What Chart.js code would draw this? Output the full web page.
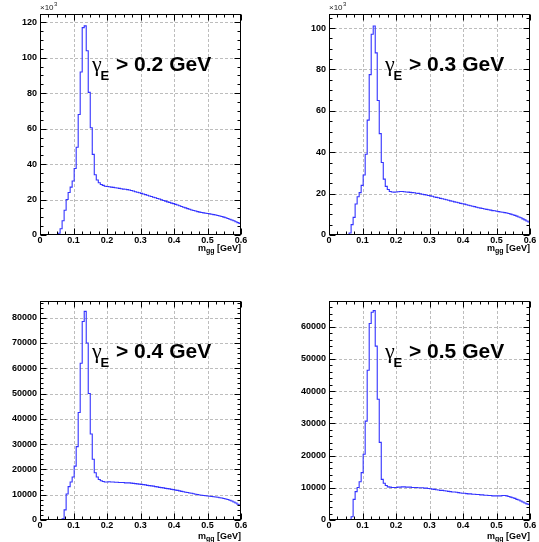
<!DOCTYPE html>
<html><head><meta charset="utf-8">
<script src="https://cdn.jsdelivr.net/npm/chart.js@4.4.1/dist/chart.umd.min.js"></script>
<style>
html,body{margin:0;padding:0;background:#fff;}
body{width:539px;height:542px;position:relative;overflow:hidden;}
canvas{position:absolute;}
</style></head><body>
<canvas id="c0"></canvas><canvas id="c1"></canvas><canvas id="c2"></canvas><canvas id="c3"></canvas>
<script>
// ---- binning (m_gg in GeV) ----
const BIN_LO = 0;
const BIN_WIDTH = 0.006;

// ---- histogram contents (entries per bin) ----
const countsE02 = [
  0,0,0,0,0,0,0,0,0,1000,
  3500,8000,14000,20000,24000,27000,30500,37500,49500,68000,
  92000,117000,118000,104000,80500,60500,45500,34000,31000,29500,
  28500,28000,27500,27400,27200,27000,26900,26700,26500,26300,
  26100,25900,25800,25600,25400,25100,24800,24400,24100,23800,
  23500,23100,22800,22400,22000,21700,21300,21000,20600,20300,
  19900,19500,19100,18700,18400,18000,17700,17300,16900,16500,
  16100,15700,15300,14900,14500,14100,13800,13500,13200,12900,
  12700,12500,12300,12100,11900,11700,11500,11300,11000,10700,
  10400,10100,9700,9300,8900,8500,8000,7500,7000,6500
];
const countsE03 = [
  0,0,0,0,0,0,0,0,0,0,
  1000,5000,8500,15000,18500,20500,24000,29000,39000,55500,
  77500,97000,101000,88000,65000,49000,35000,27000,23500,22000,
  21000,20800,20700,20800,20900,21000,21000,20900,20800,20700,
  20600,20500,20400,20200,20100,19900,19700,19500,19300,19100,
  18900,18700,18400,18200,18000,17700,17500,17300,17000,16800,
  16500,16300,16000,15800,15600,15300,15100,14900,14600,14400,
  14100,13900,13700,13400,13200,13000,12800,12600,12400,12200,
  12000,11800,11700,11500,11300,11100,11000,10800,10600,10400,
  10100,9800,9500,9100,8700,8300,7800,7300,6800,6300
];
const countsE04 = [
  0,0,0,0,0,0,0,0,0,0,
  0,500,4000,10300,13200,15000,17000,21300,29000,42500,
  62000,78500,82500,70000,50000,34000,24000,18700,17000,16000,
  15500,15200,15000,15000,15100,15000,15000,14900,14900,14800,
  14800,14800,14700,14700,14700,14600,14500,14400,14300,14200,
  14100,14000,13900,13700,13600,13500,13400,13200,13100,12900,
  12800,12700,12500,12400,12300,12100,12000,11800,11700,11500,
  11300,11200,11000,10900,10700,10600,10400,10200,10100,9900,
  9800,9700,9600,9500,9400,9300,9200,9100,9000,8800,
  8700,8500,8300,8100,7800,7500,7100,6700,6200,5800
];
const countsE05 = [
  0,0,0,0,0,0,0,0,0,0,
  0,1000,6400,8800,10100,11900,14700,20400,30700,46500,
  61000,64500,65000,54000,37500,24100,12600,11400,10700,10300,
  10200,10100,10100,10100,10200,10200,10300,10300,10200,10200,
  10200,10100,10100,10100,10000,10000,10000,9900,9900,9800,
  9700,9600,9500,9400,9300,9200,9200,9100,9000,8900,
  8800,8700,8700,8600,8500,8400,8300,8300,8200,8100,
  8100,8000,8000,7900,7900,7800,7800,7700,7700,7600,
  7600,7500,7500,7500,7500,7500,7600,7600,7500,7300,
  7100,6900,6700,6400,6200,5900,5600,5300,5000,4800
];

// ---- labels & ticks ----
const cutLabels = ['0.2', '0.3', '0.4', '0.5'];
const xTickValues = [0, 0.1, 0.2, 0.3, 0.4, 0.5, 0.6];
const xTickLabels = ['0', '0.1', '0.2', '0.3', '0.4', '0.5', '0.6'];
const yTickValuesE02 = [0, 20000, 40000, 60000, 80000, 100000, 120000];
const yTickLabelsE02 = ['0', '20', '40', '60', '80', '100', '120'];
const yTickValuesE03 = [0, 20000, 40000, 60000, 80000, 100000];
const yTickLabelsE03 = ['0', '20', '40', '60', '80', '100'];
const yTickValuesE04 = [0, 10000, 20000, 30000, 40000, 50000, 60000, 70000, 80000];
const yTickLabelsE04 = ['0', '10000', '20000', '30000', '40000', '50000', '60000', '70000', '80000'];
const yTickValuesE05 = [0, 10000, 20000, 30000, 40000, 50000, 60000];
const yTickLabelsE05 = ['0', '10000', '20000', '30000', '40000', '50000', '60000'];
const yAxisMax = [124700, 106800, 86600, 68000];
const X_MIN = 0, X_MAX = 0.6;

// ---- layout (page pixels) ----
const panels = [
  { id: 'c0', counts: countsE02, cut: cutLabels[0], yMax: yAxisMax[0], yTicks: yTickValuesE02, yLabels: yTickLabelsE02, ySub: 4, exp: true,
    cv: { left: 0, top: 0, w: 270, h: 262 }, fr: { l: 40, t: 14, r: 241, b: 235 }, titleY: 251 },
  { id: 'c1', counts: countsE03, cut: cutLabels[1], yMax: yAxisMax[1], yTicks: yTickValuesE03, yLabels: yTickLabelsE03, ySub: 4, exp: true,
    cv: { left: 289, top: 0, w: 250, h: 262 }, fr: { l: 329, t: 14, r: 530, b: 235 }, titleY: 251 },
  { id: 'c2', counts: countsE04, cut: cutLabels[2], yMax: yAxisMax[2], yTicks: yTickValuesE04, yLabels: yTickLabelsE04, ySub: 5, exp: false,
    cv: { left: 0, top: 288, w: 270, h: 254 }, fr: { l: 40, t: 301, r: 241, b: 520 }, titleY: 539 },
  { id: 'c3', counts: countsE05, cut: cutLabels[3], yMax: yAxisMax[3], yTicks: yTickValuesE05, yLabels: yTickLabelsE05, ySub: 5, exp: false,
    cv: { left: 289, top: 288, w: 250, h: 254 }, fr: { l: 329, t: 301, r: 530, b: 520 }, titleY: 539 }
];
const textOffsets = [{ dx: 52 }, { dx: 56 }, { dx: 52 }, { dx: 56 }];

const FONT = '"Liberation Sans", Arial, sans-serif';

const rootFrame = {
  id: 'rootFrame',
  beforeDatasetsDraw(chart, args, o) {
    const { ctx, chartArea: a, scales: { x, y } } = chart;
    ctx.save();
    ctx.strokeStyle = '#bdbdbd';
    ctx.lineWidth = 1;
    ctx.setLineDash([3, 2]);
    xTickValues.forEach(v => {
      if (v <= X_MIN || v >= X_MAX) return;
      const px = Math.round(x.getPixelForValue(v)) + 0.5;
      ctx.beginPath(); ctx.moveTo(px, a.top); ctx.lineTo(px, a.bottom); ctx.stroke();
    });
    o.p.yTicks.forEach(v => {
      if (v <= 0) return;
      const py = Math.round(y.getPixelForValue(v)) + 0.5;
      ctx.beginPath(); ctx.moveTo(a.left, py); ctx.lineTo(a.right, py); ctx.stroke();
    });
    ctx.restore();
  },
  afterDraw(chart, args, o) {
    const { ctx, chartArea: a, scales: { x, y } } = chart;
    const p = o.p;
    const L = Math.round(a.left) + 0.5, R = Math.round(a.right) - 0.5;
    const T = Math.round(a.top) + 0.5, B = Math.round(a.bottom) - 0.5;
    ctx.save();
    ctx.strokeStyle = '#000';
    ctx.lineWidth = 1;
    ctx.setLineDash([]);
    ctx.strokeRect(L, T, R - L, B - T);
    // x ticks (bottom + top, inside)
    const xStep = 0.1 / 4;
    ctx.beginPath();
    for (let k = 0; k <= Math.round((X_MAX - X_MIN) / xStep); k++) {
      const v = X_MIN + k * xStep;
      const major = k % 4 === 0;
      const len = major ? 6 : 3;
      const px = Math.round(x.getPixelForValue(v)) + 0.5;
      ctx.moveTo(px, B); ctx.lineTo(px, B - len);
      ctx.moveTo(px, T); ctx.lineTo(px, T + len);
    }
    // y ticks (left + right, inside)
    const major = p.yTicks[1] - p.yTicks[0];
    const yStep = major / p.ySub;
    for (let k = 0; k * yStep <= p.yMax; k++) {
      const v = k * yStep;
      const len = (k % p.ySub === 0) ? 6 : 3;
      const py = Math.round(y.getPixelForValue(v)) + 0.5;
      ctx.moveTo(L, py); ctx.lineTo(L + len, py);
      ctx.moveTo(R, py); ctx.lineTo(R - len, py);
    }
    ctx.stroke();

    // x axis title  m_gg [GeV], right aligned
    const ty = p.titleY - p.cv.top;
    ctx.fillStyle = '#000';
    ctx.textBaseline = 'alphabetic';
    ctx.textAlign = 'left';
    const f1 = 'bold 9px ' + FONT, f2 = 'bold 7px ' + FONT;
    ctx.font = f1; const w1 = ctx.measureText('m').width; const w3 = ctx.measureText(' [GeV]').width;
    ctx.font = f2; const w2 = ctx.measureText('gg').width;
    let tx = a.right - (w1 + w2 + w3);
    ctx.font = f1; ctx.fillText('m', tx, ty); tx += w1;
    ctx.font = f2; ctx.fillText('gg', tx, ty + 2); tx += w2;
    ctx.font = f1; ctx.fillText(' [GeV]', tx, ty);

    // exponent label
    if (p.exp) {
      ctx.fillStyle = '#222';
      ctx.font = '8px ' + FONT;
      const ex = a.left;
      ctx.fillText('\u00d710', ex, a.top - 4);
      const we = ctx.measureText('\u00d710').width;
      ctx.font = '6px ' + FONT;
      ctx.fillText('3', ex + we + 0.5, a.top - 8);
    }

    // cut label  γ_E > x GeV
    ctx.fillStyle = '#000';
    const gx = a.left + o.dx, gy = a.top + 57;
    ctx.font = '22px "Liberation Serif", serif';
    ctx.fillText('\u03b3', gx, gy);
    ctx.font = 'bold 13px ' + FONT;
    ctx.fillText('E', gx + 8.5, gy + 9);
    ctx.font = 'bold 21px ' + FONT;
    ctx.fillText('> ' + p.cut + ' GeV', gx + 24, gy);
    ctx.restore();
  }
};

panels.forEach((p, idx) => {
  const cv = document.getElementById(p.id);
  cv.width = p.cv.w; cv.height = p.cv.h;
  cv.style.left = p.cv.left + 'px'; cv.style.top = p.cv.top + 'px';
  cv.style.width = p.cv.w + 'px'; cv.style.height = p.cv.h + 'px';

  const pts = p.counts.map((c, i) => ({ x: BIN_LO + i * BIN_WIDTH, y: c }));
  pts.push({ x: BIN_LO + p.counts.length * BIN_WIDTH, y: p.counts[p.counts.length - 1] });

  const tickFont = { family: 'Liberation Sans', size: 9, weight: 'bold' };
  new Chart(cv, {
    type: 'line',
    data: { datasets: [{ data: pts, stepped: true, borderColor: 'rgb(50,50,255)', borderWidth: 1.1,
      pointRadius: 0, pointHoverRadius: 0, fill: false, tension: 0 }] },
    options: {
      responsive: false, animation: false, devicePixelRatio: 1,
      events: [],
      layout: { padding: { top: p.fr.t - p.cv.top, right: p.cv.left + p.cv.w - p.fr.r, left: 0, bottom: 0 } },
      plugins: { legend: { display: false }, tooltip: { enabled: false },
        rootFrame: { p: p, dx: textOffsets[idx].dx } },
      scales: {
        x: { type: 'linear', min: X_MIN, max: X_MAX,
          afterBuildTicks: s => { s.ticks = xTickValues.map(v => ({ value: v })); },
          afterFit: s => { s.height = p.cv.top + p.cv.h - p.fr.b; },
          grid: { display: false, drawTicks: false }, border: { display: false },
          ticks: { callback: (v, i) => xTickLabels[i], font: tickFont, color: '#000', padding: 0,
            maxRotation: 0, autoSkip: false } },
        y: { type: 'linear', min: 0, max: p.yMax,
          afterBuildTicks: s => { s.ticks = p.yTicks.map(v => ({ value: v })); },
          afterFit: s => { s.width = p.fr.l - p.cv.left; },
          grid: { display: false, drawTicks: false }, border: { display: false },
          ticks: { callback: (v, i) => p.yLabels[i], font: tickFont, color: '#000', padding: 3,
            autoSkip: false } }
      }
    },
    plugins: [rootFrame]
  });
});
</script>
</body></html>
